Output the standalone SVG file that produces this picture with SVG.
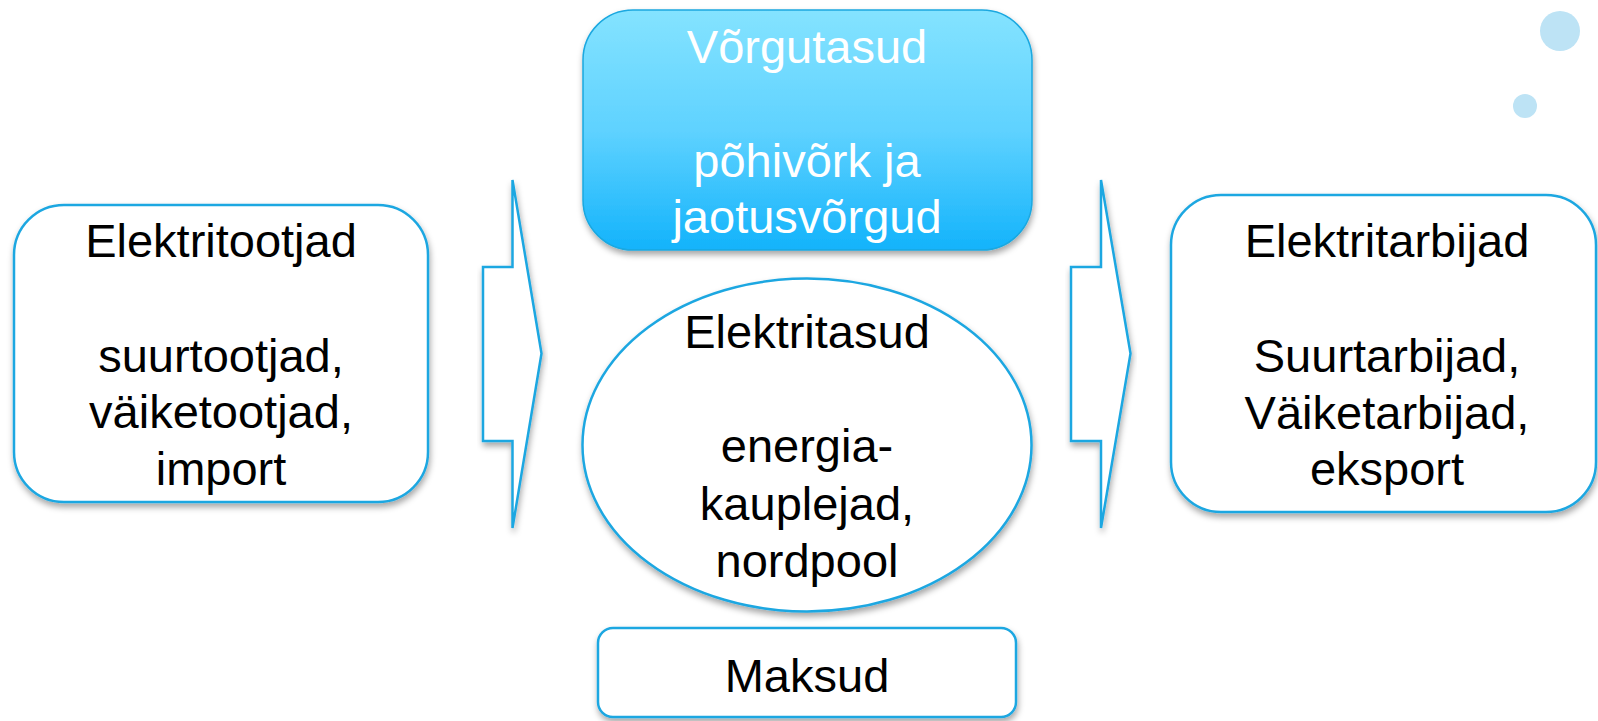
<svg xmlns="http://www.w3.org/2000/svg" width="1598" height="721" viewBox="0 0 1598 721">
<defs>
  <linearGradient id="blueGrad" x1="0" y1="0" x2="0" y2="1">
    <stop offset="0" stop-color="#84e3ff"/>
    <stop offset="0.5" stop-color="#5fd2ff"/>
    <stop offset="1" stop-color="#13b3fb"/>
  </linearGradient>
  <filter id="shadow" x="-10%" y="-10%" width="120%" height="130%">
    <feDropShadow dx="1" dy="4" stdDeviation="3" flood-color="#000" flood-opacity="0.35"/>
  </filter>
  <style>
    .shape { fill: #ffffff; stroke: #1ea7e1; stroke-width: 2.5; filter: url(#shadow); }
    .txt { font-family: "Liberation Sans", Arial, sans-serif; font-size: 47px; fill: #000; text-anchor: middle; }
    .wtxt { font-family: "Liberation Sans", Arial, sans-serif; font-size: 47px; fill: #ffffff; text-anchor: middle; }
    .dot { fill: #bde3f5; }
  </style>
</defs>
<rect width="1598" height="721" fill="#ffffff"/>

<g id="decor">
  <circle class="dot" cx="1560" cy="31" r="20"/>
  <circle class="dot" cx="1525" cy="106" r="12"/>
</g>

<g id="connectors">
  <polygon class="shape" points="512.5,180 541.5,353.5 512.5,528 512.5,441 483,441 483,267 512.5,267"/>
  <polygon class="shape" points="1101,180 1130.5,353.5 1101,528 1101,441 1071,441 1071,267 1101,267"/>
</g>

<g id="tootjad">
  <rect class="shape" x="14" y="205" width="414" height="297" rx="50" ry="50"/>
  <text class="txt" x="221" y="257">Elektritootjad</text>
  <text class="txt" x="221" y="372">suurtootjad,</text>
  <text class="txt" x="221" y="428">väiketootjad,</text>
  <text class="txt" x="221" y="485">import</text>
</g>

<g id="vorgutasud">
  <rect x="583" y="10" width="449" height="240" rx="50" ry="50" fill="url(#blueGrad)" stroke="#1aa8e0" stroke-width="1.5" filter="url(#shadow)"/>
  <text class="wtxt" x="807" y="63">Võrgutasud</text>
  <text class="wtxt" x="807" y="177">põhivõrk ja</text>
  <text class="wtxt" x="807" y="233">jaotusvõrgud</text>
</g>

<g id="elektritasud">
  <ellipse class="shape" cx="807" cy="445" rx="224.5" ry="166.5"/>
  <text class="txt" x="807" y="348">Elektritasud</text>
  <text class="txt" x="807" y="462">energia-</text>
  <text class="txt" x="807" y="520">kauplejad,</text>
  <text class="txt" x="807" y="577">nordpool</text>
</g>

<g id="maksud">
  <rect class="shape" x="598" y="628" width="418" height="89" rx="15" ry="15"/>
  <text class="txt" x="807" y="692">Maksud</text>
</g>

<g id="tarbijad">
  <rect class="shape" x="1171" y="195" width="425" height="317" rx="50" ry="50"/>
  <text class="txt" x="1387" y="257">Elektritarbijad</text>
  <text class="txt" x="1387" y="372">Suurtarbijad,</text>
  <text class="txt" x="1387" y="429">Väiketarbijad,</text>
  <text class="txt" x="1387" y="485">eksport</text>
</g>
</svg>
